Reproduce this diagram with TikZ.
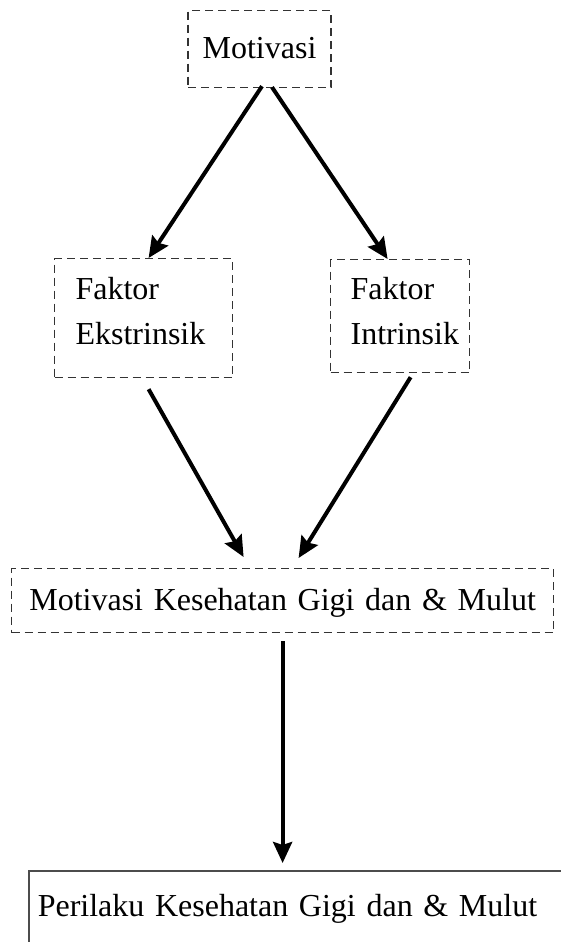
\documentclass[tikz,border=0pt]{standalone}
\usepackage{fontspec}
\setmainfont{Liberation Serif}
\usetikzlibrary{arrows.meta}

\begin{document}
\begin{tikzpicture}[x=1pt, y=-1pt,
		dashbox/.style={draw=black!80, line width=1.2pt, dash pattern=on 8pt off 5pt, inner sep=0pt, font=\fontsize{32}{45}\selectfont},
		solidbox/.style={draw=black!70, line width=1.5pt, inner sep=0pt, font=\fontsize{32}{45}\selectfont},
		arrowline/.style={line width=4pt, -{Stealth[length=21pt, width=19pt, inset=3pt]}}]
			%%%%% START %%%%%
			
			\clip (0, 0) rectangle (561, 942);
			
			\node[dashbox, anchor=north, text width=143pt, align=center, text height=48pt, text depth=29pt] (motivasi) at (259.5, 10) {Motivasi};
			
			\node[dashbox, anchor=north west, inner xsep=21pt, text width=136pt, align=left, text height=41pt, text depth=78pt] (ekstrinsik) at (54, 258) {Faktor\\Ekstrinsik};
			\node[dashbox, anchor=north west, inner xsep=20pt, text width=99pt, align=left, text height=40pt, text depth=73pt] (intrinsik) at (330, 259) {Faktor\\Intrinsik};
			
			\node[dashbox, anchor=north west, text width=542pt, align=center, text height=42pt, text depth=22pt] (kesehatan) at (11, 568) {Motivasi Kesehatan Gigi dan \& Mulut};
			
			\node[solidbox, anchor=north west, inner xsep=9pt, text width=600pt, align=left, text height=46pt, text depth=100pt] (perilaku) at (28, 870) {Perilaku Kesehatan Gigi dan \& Mulut};
			
			\draw[arrowline] ([xshift=2.5pt, yshift=2pt]motivasi.south) -- ([xshift=5pt]ekstrinsik.north);
			\draw[arrowline] ([xshift=12.5pt, yshift=1pt]motivasi.south) -- ([xshift=-12.5pt]intrinsik.north);
			
			\draw[arrowline] ([xshift=5pt, yshift=-11pt]ekstrinsik.south) -- ([xshift=-39pt, yshift=11pt]kesehatan.north);
			\draw[arrowline] ([xshift=10.5pt, yshift=-4pt]intrinsik.south) -- ([xshift=16pt, yshift=10pt]kesehatan.north);
			
			\draw[arrowline, shorten <=8pt, shorten >=7pt] (kesehatan.south) -- (kesehatan.south |- perilaku.north);
			
			%%%%% END %%%%%
		\end{tikzpicture}
\end{document}
